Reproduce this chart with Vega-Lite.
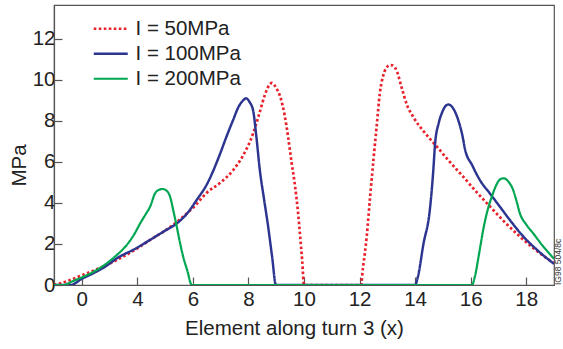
{
  "$schema": "https://vega.github.io/schema/vega-lite/v6.json",
  "width": 500,
  "height": 280,
  "autosize": {"type": "none"},
  "padding": {"left": 54, "top": 5, "right": 9, "bottom": 64},
  "background": "white",
  "config": {
    "font": "Liberation Sans",
    "view": {"stroke": "#555", "strokeWidth": 1.2},
    "axis": {"grid": false, "domainColor": "#555", "tickColor": "#555", "labelColor": "#222", "titleColor": "#222", "labelFontSize": 20.5, "titleFontSize": 20.5, "titleFontWeight": "normal", "tickSize": -8, "tickWidth": 1.2, "domainWidth": 1.2}
  },
  "title": {"text": "IG98 504/8c", "orient": "right", "anchor": "end", "frame": "group", "angle": -90, "align": "left", "baseline": "middle", "fontSize": 8.5, "fontWeight": "normal", "color": "#333", "offset": -1.5, "dy": -3},
  "data": {"values": [
    {"s": "I = 50MPa", "x": 1.0, "y": 0},
    {"s": "I = 50MPa", "x": 1.5, "y": 0.2},
    {"s": "I = 50MPa", "x": 2.05, "y": 0.5},
    {"s": "I = 50MPa", "x": 2.6, "y": 0.8},
    {"s": "I = 50MPa", "x": 3.26, "y": 1.22},
    {"s": "I = 50MPa", "x": 3.9, "y": 1.7},
    {"s": "I = 50MPa", "x": 4.46, "y": 2.2},
    {"s": "I = 50MPa", "x": 5.05, "y": 2.7},
    {"s": "I = 50MPa", "x": 5.65, "y": 3.33},
    {"s": "I = 50MPa", "x": 6.1, "y": 3.9},
    {"s": "I = 50MPa", "x": 6.5, "y": 4.5},
    {"s": "I = 50MPa", "x": 7.0, "y": 5.0},
    {"s": "I = 50MPa", "x": 7.45, "y": 5.6},
    {"s": "I = 50MPa", "x": 7.8, "y": 6.3},
    {"s": "I = 50MPa", "x": 8.17, "y": 7.4},
    {"s": "I = 50MPa", "x": 8.4, "y": 8.4},
    {"s": "I = 50MPa", "x": 8.6, "y": 9.3},
    {"s": "I = 50MPa", "x": 8.75, "y": 9.75},
    {"s": "I = 50MPa", "x": 8.85, "y": 9.85},
    {"s": "I = 50MPa", "x": 9.0, "y": 9.6},
    {"s": "I = 50MPa", "x": 9.14, "y": 9.2},
    {"s": "I = 50MPa", "x": 9.3, "y": 8.3},
    {"s": "I = 50MPa", "x": 9.43, "y": 7.2},
    {"s": "I = 50MPa", "x": 9.55, "y": 6.0},
    {"s": "I = 50MPa", "x": 9.68, "y": 4.8},
    {"s": "I = 50MPa", "x": 9.78, "y": 3.6},
    {"s": "I = 50MPa", "x": 9.86, "y": 2.4},
    {"s": "I = 50MPa", "x": 9.94, "y": 1.1},
    {"s": "I = 50MPa", "x": 10.0, "y": 0},
    {"s": "I = 50MPa", "x": 12.05, "y": 0},
    {"s": "I = 50MPa", "x": 12.12, "y": 0.8},
    {"s": "I = 50MPa", "x": 12.26, "y": 2.4},
    {"s": "I = 50MPa", "x": 12.38, "y": 4.3},
    {"s": "I = 50MPa", "x": 12.5, "y": 6.1},
    {"s": "I = 50MPa", "x": 12.62, "y": 7.8},
    {"s": "I = 50MPa", "x": 12.73, "y": 9.35},
    {"s": "I = 50MPa", "x": 12.85, "y": 10.2},
    {"s": "I = 50MPa", "x": 12.95, "y": 10.55},
    {"s": "I = 50MPa", "x": 13.1, "y": 10.72},
    {"s": "I = 50MPa", "x": 13.2, "y": 10.7},
    {"s": "I = 50MPa", "x": 13.35, "y": 10.4},
    {"s": "I = 50MPa", "x": 13.5, "y": 9.7},
    {"s": "I = 50MPa", "x": 13.7, "y": 8.8},
    {"s": "I = 50MPa", "x": 13.93, "y": 8.2},
    {"s": "I = 50MPa", "x": 14.3, "y": 7.5},
    {"s": "I = 50MPa", "x": 14.78, "y": 6.75},
    {"s": "I = 50MPa", "x": 15.25, "y": 6.0},
    {"s": "I = 50MPa", "x": 15.73, "y": 5.28},
    {"s": "I = 50MPa", "x": 16.2, "y": 4.55},
    {"s": "I = 50MPa", "x": 16.7, "y": 3.82},
    {"s": "I = 50MPa", "x": 17.2, "y": 3.1},
    {"s": "I = 50MPa", "x": 17.77, "y": 2.36},
    {"s": "I = 50MPa", "x": 18.35, "y": 1.7},
    {"s": "I = 50MPa", "x": 19.0, "y": 1.05},
    {"s": "I = 100MPa", "x": 1.0, "y": 0},
    {"s": "I = 100MPa", "x": 1.6, "y": 0},
    {"s": "I = 100MPa", "x": 2.0, "y": 0.3},
    {"s": "I = 100MPa", "x": 2.41, "y": 0.57},
    {"s": "I = 100MPa", "x": 2.85, "y": 0.9},
    {"s": "I = 100MPa", "x": 3.26, "y": 1.3},
    {"s": "I = 100MPa", "x": 3.9, "y": 1.75},
    {"s": "I = 100MPa", "x": 4.46, "y": 2.2},
    {"s": "I = 100MPa", "x": 5.0, "y": 2.65},
    {"s": "I = 100MPa", "x": 5.42, "y": 3.0},
    {"s": "I = 100MPa", "x": 5.8, "y": 3.5},
    {"s": "I = 100MPa", "x": 6.14, "y": 4.15},
    {"s": "I = 100MPa", "x": 6.5, "y": 4.9},
    {"s": "I = 100MPa", "x": 6.98, "y": 6.4},
    {"s": "I = 100MPa", "x": 7.2, "y": 7.2},
    {"s": "I = 100MPa", "x": 7.45, "y": 8.05},
    {"s": "I = 100MPa", "x": 7.65, "y": 8.7},
    {"s": "I = 100MPa", "x": 7.81, "y": 9.0},
    {"s": "I = 100MPa", "x": 7.91, "y": 9.1},
    {"s": "I = 100MPa", "x": 8.05, "y": 8.9},
    {"s": "I = 100MPa", "x": 8.17, "y": 8.5},
    {"s": "I = 100MPa", "x": 8.28, "y": 7.3},
    {"s": "I = 100MPa", "x": 8.41, "y": 5.6},
    {"s": "I = 100MPa", "x": 8.56, "y": 4.2},
    {"s": "I = 100MPa", "x": 8.71, "y": 2.84},
    {"s": "I = 100MPa", "x": 8.85, "y": 1.4},
    {"s": "I = 100MPa", "x": 8.99, "y": 0},
    {"s": "I = 100MPa", "x": 14.0, "y": 0},
    {"s": "I = 100MPa", "x": 14.1, "y": 0.4},
    {"s": "I = 100MPa", "x": 14.3, "y": 2.0},
    {"s": "I = 100MPa", "x": 14.53, "y": 3.66},
    {"s": "I = 100MPa", "x": 14.65, "y": 5.5},
    {"s": "I = 100MPa", "x": 14.72, "y": 6.9},
    {"s": "I = 100MPa", "x": 14.85, "y": 7.9},
    {"s": "I = 100MPa", "x": 14.96, "y": 8.37},
    {"s": "I = 100MPa", "x": 15.08, "y": 8.7},
    {"s": "I = 100MPa", "x": 15.2, "y": 8.8},
    {"s": "I = 100MPa", "x": 15.35, "y": 8.65},
    {"s": "I = 100MPa", "x": 15.55, "y": 8.05},
    {"s": "I = 100MPa", "x": 15.7, "y": 7.3},
    {"s": "I = 100MPa", "x": 15.8, "y": 6.6},
    {"s": "I = 100MPa", "x": 16.05, "y": 5.85},
    {"s": "I = 100MPa", "x": 16.33, "y": 5.12},
    {"s": "I = 100MPa", "x": 16.7, "y": 4.45},
    {"s": "I = 100MPa", "x": 17.05, "y": 3.82},
    {"s": "I = 100MPa", "x": 17.45, "y": 3.1},
    {"s": "I = 100MPa", "x": 17.9, "y": 2.36},
    {"s": "I = 100MPa", "x": 18.4, "y": 1.7},
    {"s": "I = 100MPa", "x": 19.0, "y": 1.03},
    {"s": "I = 200MPa", "x": 1.0, "y": 0},
    {"s": "I = 200MPa", "x": 1.33, "y": 0},
    {"s": "I = 200MPa", "x": 1.7, "y": 0.2},
    {"s": "I = 200MPa", "x": 2.05, "y": 0.4},
    {"s": "I = 200MPa", "x": 2.5, "y": 0.7},
    {"s": "I = 200MPa", "x": 2.9, "y": 1.06},
    {"s": "I = 200MPa", "x": 3.25, "y": 1.45},
    {"s": "I = 200MPa", "x": 3.62, "y": 1.95},
    {"s": "I = 200MPa", "x": 3.9, "y": 2.5},
    {"s": "I = 200MPa", "x": 4.1, "y": 3.0},
    {"s": "I = 200MPa", "x": 4.3, "y": 3.45},
    {"s": "I = 200MPa", "x": 4.46, "y": 3.82},
    {"s": "I = 200MPa", "x": 4.64, "y": 4.47},
    {"s": "I = 200MPa", "x": 4.8, "y": 4.65},
    {"s": "I = 200MPa", "x": 4.91, "y": 4.68},
    {"s": "I = 200MPa", "x": 5.05, "y": 4.6},
    {"s": "I = 200MPa", "x": 5.18, "y": 4.3},
    {"s": "I = 200MPa", "x": 5.3, "y": 3.6},
    {"s": "I = 200MPa", "x": 5.42, "y": 2.84},
    {"s": "I = 200MPa", "x": 5.53, "y": 2.1},
    {"s": "I = 200MPa", "x": 5.65, "y": 1.38},
    {"s": "I = 200MPa", "x": 5.8, "y": 0.7},
    {"s": "I = 200MPa", "x": 5.96, "y": 0},
    {"s": "I = 200MPa", "x": 16.05, "y": 0},
    {"s": "I = 200MPa", "x": 16.15, "y": 0.4},
    {"s": "I = 200MPa", "x": 16.3, "y": 1.5},
    {"s": "I = 200MPa", "x": 16.45, "y": 2.68},
    {"s": "I = 200MPa", "x": 16.6, "y": 3.6},
    {"s": "I = 200MPa", "x": 16.76, "y": 4.3},
    {"s": "I = 200MPa", "x": 16.99, "y": 5.04},
    {"s": "I = 200MPa", "x": 17.1, "y": 5.18},
    {"s": "I = 200MPa", "x": 17.2, "y": 5.2},
    {"s": "I = 200MPa", "x": 17.35, "y": 5.05},
    {"s": "I = 200MPa", "x": 17.53, "y": 4.63},
    {"s": "I = 200MPa", "x": 17.65, "y": 4.1},
    {"s": "I = 200MPa", "x": 17.77, "y": 3.5},
    {"s": "I = 200MPa", "x": 18.0, "y": 2.95},
    {"s": "I = 200MPa", "x": 18.25, "y": 2.52},
    {"s": "I = 200MPa", "x": 18.6, "y": 1.9},
    {"s": "I = 200MPa", "x": 19.0, "y": 1.28}
  ]},
  "mark": {"type": "line", "interpolate": "monotone", "clip": true},
  "encoding": {
    "x": {
      "field": "x", "type": "quantitative",
      "scale": {"domain": [1, 19], "nice": false, "zero": false},
      "axis": {"values": [2, 4, 6, 8, 10, 12, 14, 16, 18], "labelExpr": "datum.value == 2 ? '0' : datum.label", "labelPadding": 12, "title": "Element along turn 3 (x)", "titleX": 240, "titleY": 43, "titleBaseline": "middle", "titleAlign": "center"}
    },
    "y": {
      "field": "y", "type": "quantitative",
      "scale": {"domain": [0, 13.65], "nice": false},
      "axis": {"values": [0, 2, 4, 6, 8, 10, 12], "labelPadding": 7, "title": "MPa", "titleX": -35, "titleY": 160, "titleAngle": -90, "titleBaseline": "middle", "titleAlign": "center"}
    },
    "strokeWidth": {
      "field": "s", "type": "nominal", "legend": null,
      "scale": {"domain": ["I = 50MPa", "I = 100MPa", "I = 200MPa"], "range": [2.7, 2.2, 2.2]}
    },
    "color": {
      "field": "s", "type": "nominal", "title": null,
      "scale": {"domain": ["I = 50MPa", "I = 100MPa", "I = 200MPa"], "range": ["#e8212a", "#2b3590", "#00a651"]},
      "legend": {"orient": "none", "legendX": 46.5, "legendY": 13.5, "padding": 0, "labelFontSize": 20.5, "labelColor": "#222", "symbolType": "M-2,0H2", "symbolSize": 289, "symbolStrokeWidth": 2.6, "symbolFillColor": "transparent", "labelOffset": 14.5, "rowPadding": 4}
    },
    "strokeDash": {
      "field": "s", "type": "nominal", "title": null,
      "scale": {"domain": ["I = 50MPa", "I = 100MPa", "I = 200MPa"], "range": [[2.6, 2.4], [1, 0], [1, 0]]},
      "legend": {"orient": "none", "legendX": 46.5, "legendY": 13.5, "padding": 0, "labelFontSize": 20.5, "labelColor": "#222", "symbolType": "M-2,0H2", "symbolSize": 289, "symbolStrokeWidth": 2.6, "symbolFillColor": "transparent", "labelOffset": 14.5, "rowPadding": 4}
    }
  }
}
